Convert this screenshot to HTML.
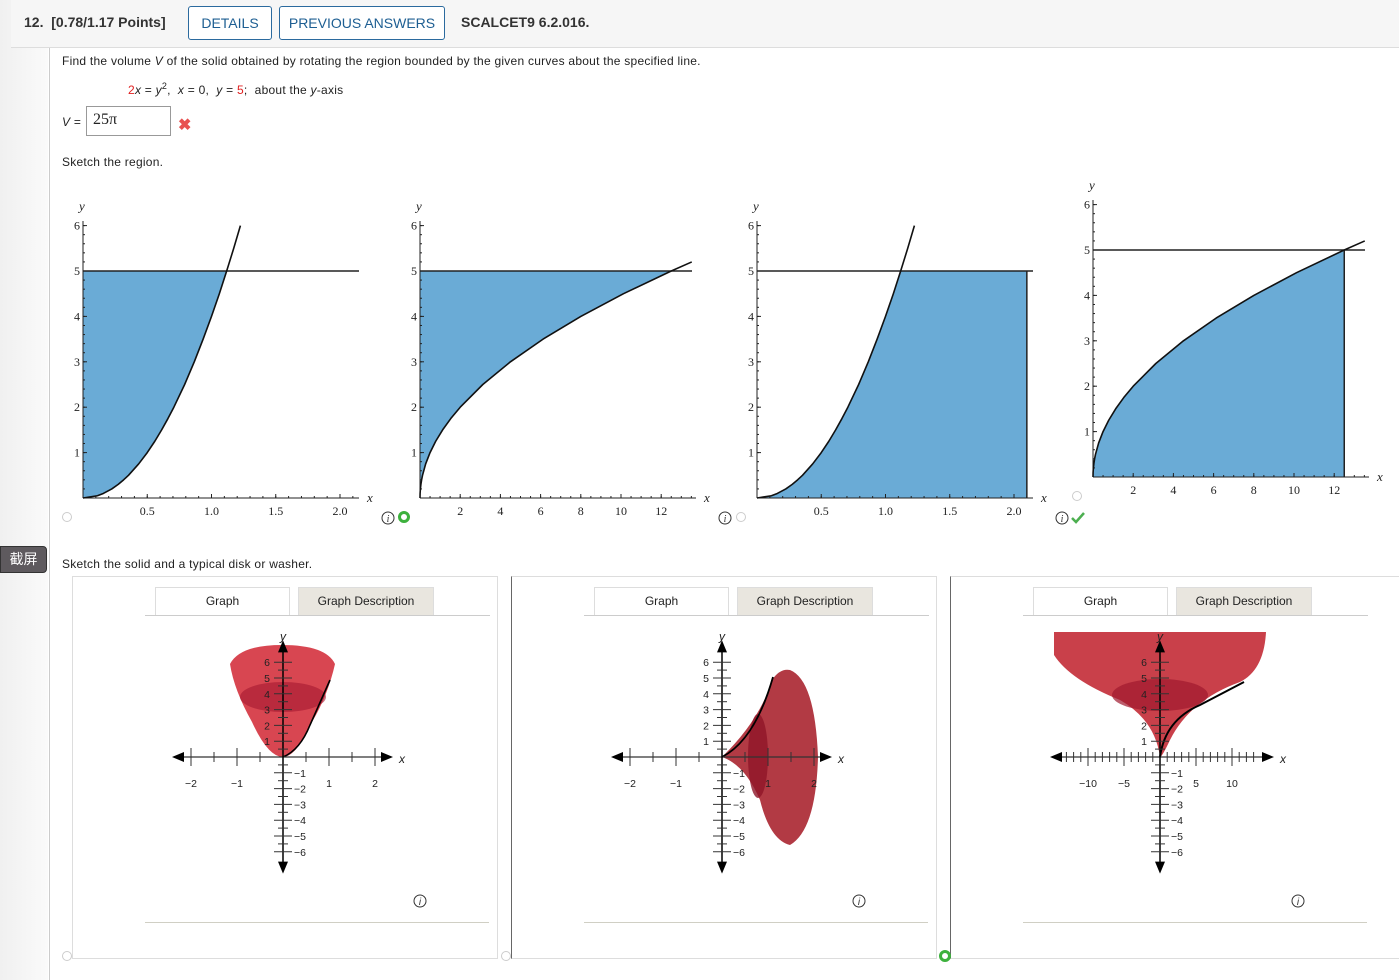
<!DOCTYPE html>
<html><head><meta charset="utf-8">
<style>
body{margin:0;width:1399px;height:980px;position:relative;background:#fff;font-family:"Liberation Sans","Noto Sans CJK SC",sans-serif;overflow:hidden;color:#222}
.a{position:absolute;white-space:nowrap}
.t{font-size:12px;letter-spacing:0.25px}
.btn{position:absolute;border:1px solid #2b6a9e;border-radius:3px;color:#1d5e92;font-size:14px;text-align:center;line-height:32px;height:32px;background:#fff}
.tab{position:absolute;height:27px;line-height:27px;font-size:12px;text-align:center;border:1px solid #ddd;border-bottom:none}
.panel{position:absolute;border:1px solid #ddd;background:#fff}
svg text{font-family:"Liberation Serif",serif}
.s3 text{font-family:"Liberation Sans",sans-serif}
</style></head><body>
<div class="a" style="left:0;top:0;width:48px;height:980px;background:linear-gradient(90deg,#f0f0f0,#fafafa)"></div>
<div class="a" style="left:49px;top:47px;width:1px;height:933px;background:#ccc"></div>
<div class="a" style="left:11px;top:0;width:1388px;height:47px;background:#f6f6f6;border-bottom:1px solid #ddd"></div>
<div class="a" style="left:24px;top:14px;font-size:14px;font-weight:bold;color:#333">12.&nbsp; [0.78/1.17 Points]</div>
<div class="btn" style="left:188px;top:6px;width:82px">DETAILS</div>
<div class="btn" style="left:279px;top:6px;width:164px">PREVIOUS ANSWERS</div>
<div class="a" style="left:461px;top:14px;font-size:14px;font-weight:bold;color:#333">SCALCET9 6.2.016.</div>
<div class="a" style="left:0;top:546px;width:45px;height:25px;background:#5e5a5e;color:#fff;font-size:14px;line-height:25px;text-align:center;border-radius:0 4px 4px 0;border:1px solid #333">截屏</div>

<div class="a t" style="left:62px;top:54px">Find the volume <i>V</i> of the solid obtained by rotating the region bounded by the given curves about the specified line.</div>
<div class="a t" style="left:128px;top:81px"><span style="color:#e02020">2</span><i>x</i> = <i>y</i><sup style="font-size:9px">2</sup>,&nbsp; <i>x</i> = 0,&nbsp; <i>y</i> = <span style="color:#e02020">5</span>;&nbsp; about the <i>y</i>-axis</div>
<div class="a t" style="left:62px;top:115px"><i>V</i> =</div>
<div class="a" style="left:86px;top:106px;width:85px;height:30px;border:1px solid #999;font-family:'Liberation Serif',serif;font-size:16px;line-height:26px;padding-left:6px;box-sizing:border-box">25π</div>
<div class="a" style="left:178px;top:115px;font-size:16px;color:#e8504f;font-weight:bold">✖</div>
<div class="a t" style="left:62px;top:155px">Sketch the region.</div>
<div class="a t" style="left:62px;top:557px">Sketch the solid and a typical disk or washer.</div>

<svg id="plots" class="a" style="left:0;top:0" width="1399" height="560"></svg>

<div class="panel" style="left:72px;top:576px;width:424px;height:381px"></div>
<div class="panel" style="left:511px;top:576px;width:424px;height:381px;border-left-color:#666"></div>
<div class="panel" style="left:950px;top:576px;width:449px;height:381px;border-left-color:#666"></div>

<svg id="solids" class="a s3" style="left:0;top:560px" width="1399" height="420"></svg>

<script>
// ---- data ----
const curveY = [0,0.05,0.1,0.2,0.3,0.4,0.5,0.75,1,1.25,1.5,1.75,2,2.5,3,3.5,4,4.5,5,5.5,6];
const steepX = [0,0.112,0.158,0.224,0.274,0.316,0.354,0.433,0.5,0.559,0.612,0.661,0.707,0.791,0.866,0.935,1.0,1.061,1.118,1.173,1.225];
const flatY = [0,0.1,0.2,0.3,0.4,0.5,0.75,1,1.25,1.5,1.75,2,2.5,3,3.5,4,4.5,5,5.2];
const flatX = [0,0.005,0.02,0.045,0.08,0.125,0.281,0.5,0.781,1.125,1.531,2,3.125,4.5,6.125,8,10.125,12.5,13.52];
const yTicks = [1,2,3,4,5,6];
const smallXTicks = [0.5,1.0,1.5,2.0];
const smallXLabels = ["0.5","1.0","1.5","2.0"];
const bigXTicks = [2,4,6,8,10,12];
const bigXLabels = ["2","4","6","8","10","12"];
const lineY = 5;
const rightX3 = 2.1;
const rightX4 = 12.5;

const NS="http://www.w3.org/2000/svg";
function mk(parent,tag,attrs,name){const e=document.createElementNS(NS,tag);for(const k in attrs)e.setAttribute(k,attrs[k]);


parent.appendChild(e);return e;}
const P=document.getElementById('plots');
const BLUE="#6aabd6";

function plot(o){
  const sx=v=>o.x0+v*o.kx, sy=v=>o.y0-v*45.4;
  const g=mk(P,'g',{},o.name);
  let d=`M${sx(0)},${sy(0)}`;
  for(let i=0;i<o.cx.length;i++){if(o.cy[i]<=lineY)d+=` L${sx(o.cx[i])},${sy(o.cy[i])}`;}
  if(o.kind==1)d+=` L${sx(0)},${sy(lineY)}Z`;
  if(o.kind==3)d+=` L${sx(o.right)},${sy(lineY)} L${sx(o.right)},${sy(0)}Z`;
  if(o.kind==4)d+=` L${sx(o.right)},${sy(0)}Z`;
  mk(g,'path',{d:d,fill:BLUE},'shaded-region');
  mk(g,'line',{x1:sx(0),y1:o.y0,x2:o.xend,y2:o.y0,stroke:'#222','stroke-width':1},'x-axis');
  mk(g,'line',{x1:sx(0),y1:o.y0,x2:sx(0),y2:sy(6.1),stroke:'#222','stroke-width':1},'y-axis');
  for(let v=o.minor;v*o.kx<o.xend-o.x0;v+=o.minor){mk(g,'line',{x1:sx(v),y1:o.y0,x2:sx(v),y2:o.y0-2,stroke:'#222'},'x-minor-tick');}
  for(let v=0.2;v<6.05;v+=0.2){mk(g,'line',{x1:sx(0),y1:sy(v),x2:sx(0)+2,y2:sy(v),stroke:'#222'},'y-minor-tick');}
  o.xt.forEach((v,i)=>{mk(g,'line',{x1:sx(v),y1:o.y0,x2:sx(v),y2:o.y0-4,stroke:'#222'},'x-tick');
    const t=mk(g,'text',{x:sx(v),y:o.y0+17,'font-size':12,'text-anchor':'middle',fill:'#222'},'x-tick-label');t.textContent=o.xl[i];});
  yTicks.forEach(v=>{mk(g,'line',{x1:sx(0),y1:sy(v),x2:sx(0)+4,y2:sy(v),stroke:'#222'},'y-tick');
    const t=mk(g,'text',{x:sx(0)-3,y:sy(v)+4,'font-size':12,'text-anchor':'end',fill:'#222'},'y-tick-label');t.textContent=v;});
  let t=mk(g,'text',{x:o.xend+8,y:o.y0+4,'font-size':13,'font-style':'italic',fill:'#222'},'x-axis-title');t.textContent='x';
  t=mk(g,'text',{x:sx(0)-4,y:sy(6)-15,'font-size':13,'font-style':'italic',fill:'#222'},'y-axis-title');t.textContent='y';
  mk(g,'line',{x1:sx(0),y1:sy(lineY),x2:o.hend,y2:sy(lineY),stroke:'#222','stroke-width':1.5},'line-y-5');
  if(o.right)mk(g,'line',{x1:sx(o.right),y1:sy(lineY),x2:sx(o.right),y2:o.y0,stroke:'#222','stroke-width':1.5},'vertical-boundary');
  let c='';for(let i=0;i<o.cx.length;i++)c+=(i?' L':'M')+sx(o.cx[i])+','+sy(o.cy[i]);
  mk(g,'path',{d:c,fill:'none',stroke:'#111','stroke-width':1.6,'stroke-linejoin':'round'},'curve');
}
plot({name:'region-plot-1',kind:1,x0:83,y0:498,kx:128.5,xend:359,hend:359,minor:0.1,xt:smallXTicks,xl:smallXLabels,cx:steepX,cy:curveY});
plot({name:'region-plot-2',kind:1,x0:420,y0:498,kx:20.1,xend:696,hend:692,minor:0.5,xt:bigXTicks,xl:bigXLabels,cx:flatX,cy:flatY});
plot({name:'region-plot-3',kind:3,x0:757,y0:498,kx:128.5,xend:1033,hend:1033,minor:0.1,xt:smallXTicks,xl:smallXLabels,cx:steepX,cy:curveY,right:rightX3});
plot({name:'region-plot-4',kind:4,x0:1093,y0:477,kx:20.1,xend:1369,hend:1365,minor:0.5,xt:bigXTicks,xl:bigXLabels,cx:flatX,cy:flatY,right:rightX4});

function radio(svg,x,y,green,name){mk(svg,'circle',{cx:x,cy:y,r:4.5,fill:'#fff',stroke:green?'#3db13d':'#ccc','stroke-width':green?3:1},name);}
function info(svg,x,y,name){mk(svg,'circle',{cx:x,cy:y,r:6,fill:'#fff',stroke:'#333','stroke-width':1},name);const t=mk(svg,'text',{x:x,y:y+4,'font-size':10,'font-style':'italic','text-anchor':'middle',fill:'#333'},name+'-glyph');t.textContent='i';}
radio(P,67,517,false,'radio-option-1');radio(P,404,517,true,'radio-option-2');radio(P,741,517,false,'radio-option-3');radio(P,1077,496,false,'radio-option-4');
info(P,388,518,'info-icon-1');info(P,725,518,'info-icon-2');info(P,1062,518,'info-icon-3');
mk(P,'path',{d:'M1072,518 l4,4 l8,-9',fill:'none',stroke:'#4caf50','stroke-width':2.5},'correct-check');

// ---- 3D solid panels ----
const S=document.getElementById('solids');
const off=560;
const solidXTicks1=[-2,-1,1,2];
const solidXTicks3=[-10,-5,5,10];
const solidYTicks=[1,2,3,4,5,6];
const solidYNeg=[-1,-2,-3,-4,-5,-6];
function axes3d(o){
  const g=mk(S,'g',{},o.name);
  const ox=o.ox, oy=o.oy-off, ky=15.8;
  mk(g,'line',{x1:o.xl,y1:oy,x2:o.xr,y2:oy,stroke:'#333','stroke-width':1.2},'x-axis');
  mk(g,'path',{d:`M${o.xl-8},${oy} l12,-5 l0,10Z M${o.xr+8},${oy} l-12,-5 l0,10Z`,fill:'#000'},'x-axis-arrows');
  mk(g,'line',{x1:ox,y1:oy-6.8*ky,x2:ox,y2:oy+6.8*ky,stroke:'#000','stroke-width':1.5},'y-axis');
  mk(g,'path',{d:`M${ox},${oy-7*ky-6} l-5,12 l10,0Z M${ox},${oy+7*ky+6} l-5,-12 l10,0Z`,fill:'#000'},'y-axis-arrows');
  for(let v=-6;v<=6;v+=0.5){if(v==0)continue;const w=Number.isInteger(v)?9:5;mk(g,'line',{x1:ox-w,y1:oy-v*ky,x2:ox+w,y2:oy-v*ky,stroke:'#333'},'y-tick');}
  for(let v=o.xmin;v<=o.xmax;v+=o.minor){if(Math.abs(v)<1e-6)continue;const big=Math.abs(v/o.major-Math.round(v/o.major))<1e-6;mk(g,'line',{x1:ox+v*o.kx,y1:oy-(big?9:5),x2:ox+v*o.kx,y2:oy+(big?9:5),stroke:'#333'},'x-tick');}
  o.ticks.forEach(v=>{const t=mk(g,'text',{x:ox+v*o.kx,y:oy+30,'font-size':10.5,'text-anchor':'middle',fill:'#222'},'x-tick-label');t.textContent=v<0?'−'+(-v):v;});
  solidYTicks.forEach(v=>{const t=mk(g,'text',{x:ox-16,y:oy-v*ky+4,'font-size':10.5,'text-anchor':'middle',fill:'#222'},'y-tick-label');t.textContent=v;});
  solidYNeg.forEach(v=>{const t=mk(g,'text',{x:ox+17,y:oy-v*ky+4,'font-size':10.5,'text-anchor':'middle',fill:'#222'},'y-tick-label');t.textContent='−'+(-v);});
  let t=mk(g,'text',{x:o.xr+14,y:oy+6,'font-size':12,'font-style':'italic',fill:'#222'},'x-axis-title');t.textContent='x';
  t=mk(g,'text',{x:ox,y:oy-7*ky-6,'font-size':12,'font-style':'italic','text-anchor':'middle',fill:'#222'},'y-axis-title');t.textContent='y';
  return g;
}
[[72,0],[511,1],[950,2]].forEach(([x,i])=>{
  const base=x-72;
  const tl=document.createElement('div');tl.className='tab';tl.style.left=(155+base)+'px';tl.style.top='587px';tl.style.width='133px';tl.style.background='#fff';tl.textContent='Graph';
  
  
  document.body.appendChild(tl);
  const td=document.createElement('div');td.className='tab';td.style.left=(298+base)+'px';td.style.top='587px';td.style.width='134px';td.style.background='#e9e6df';td.textContent='Graph Description';
  
  
  document.body.appendChild(td);
  mk(S,'line',{x1:145+base,y1:615.5-off,x2:490+base,y2:615.5-off,stroke:'#ccc'},'tab-underline');
  mk(S,'line',{x1:145+base,y1:922.5-off,x2:489+base,y2:922.5-off,stroke:'#d0cfc4'},'panel-footer-line');
  info(S,420+base,901-off,'panel-info-icon');
});
radio(S,67,956-off,false,'solid-radio-1');radio(S,506,956-off,false,'solid-radio-2');radio(S,945,956-off,true,'solid-radio-3');

let g1=mk(S,'g',{},'solid-1-shape');
mk(g1,'path',{d:`M230,${664-off} Q240,${645-off} 282,${645-off} Q326,${645-off} 335,${664-off} Q328,${695-off} 312,${722-off} Q296,${757-off} 283,${757-off} Q268,${757-off} 252,${722-off} Q234,${690-off} 230,${664-off}Z`,fill:'#d63c48',opacity:0.95},'paraboloid');
mk(g1,'ellipse',{cx:283,cy:697-off,rx:43,ry:15,fill:'#a51830',opacity:0.6},'disk');
mk(g1,'path',{d:`M283,${757-off} Q300,${750-off} 310,${725-off} L330,${680-off}`,fill:'none',stroke:'#000','stroke-width':1.6},'curve');
axes3d({name:'solid-axes-1',ox:283,oy:757,kx:46,xl:180,xr:385,xmin:-2,xmax:2,minor:0.5,major:1,ticks:solidXTicks1});
let g2=mk(S,'g',{},'solid-2-shape');
mk(g2,'path',{d:`M722,${757-off} Q760,${720-off} 772,${680-off} Q780,${668-off} 790,${670-off} Q815,${680-off} 818,${757-off} Q816,${830-off} 790,${845-off} Q770,${840-off} 760,${800-off} Q745,${765-off} 722,${757-off}Z`,fill:'#b23a44'},'solid-body');
mk(g2,'ellipse',{cx:758,cy:756-off,rx:10,ry:42,fill:'#8e1528',opacity:0.8},'disk');
mk(g2,'path',{d:`M722,${757-off} Q755,${740-off} 773,${677-off}`,fill:'none',stroke:'#000','stroke-width':1.8},'curve');
axes3d({name:'solid-axes-2',ox:722,oy:757,kx:46,xl:619,xr:824,xmin:-2,xmax:2,minor:0.5,major:1,ticks:solidXTicks1});
let g3=mk(S,'g',{},'solid-3-shape');
mk(g3,'path',{d:`M1054,${632-off} L1266,${632-off} Q1264,${670-off} 1240,${682-off} Q1190,${700-off} 1170,${740-off} Q1162,${757-off} 1160,${757-off} Q1155,${720-off} 1120,${700-off} Q1070,${680-off} 1054,${655-off}Z`,fill:'#c9404a'},'solid-body');
mk(g3,'ellipse',{cx:1160,cy:695-off,rx:48,ry:16,fill:'#a0182e',opacity:0.7},'disk');
mk(g3,'path',{d:`M1160,${757-off} Q1165,${720-off} 1200,${705-off} L1244,${682-off}`,fill:'none',stroke:'#000','stroke-width':2},'curve');
axes3d({name:'solid-axes-3',ox:1160,oy:757,kx:7.2,xl:1058,xr:1266,xmin:-13,xmax:13,minor:1,major:5,ticks:solidXTicks3});
</script>
</body></html>
